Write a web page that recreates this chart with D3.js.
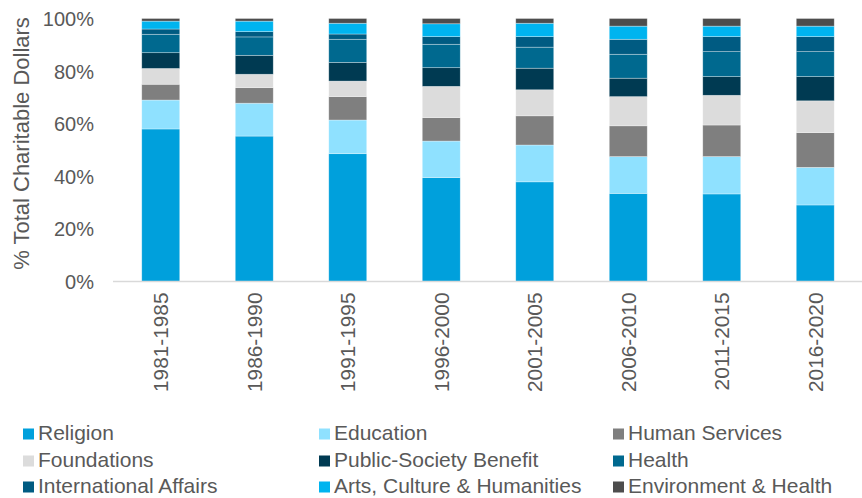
<!DOCTYPE html>
<html>
<head>
<meta charset="utf-8">
<script src="https://cdn.jsdelivr.net/npm/d3@7"></script>
<style>
  html, body { margin: 0; padding: 0; background: #fff; }
  svg { display: block; font-family: "Liberation Sans", Arial, sans-serif; }
</style>
</head>
<body>
<svg id="chart" width="862" height="498"></svg>
<script>
const periods = ["1981-1985","1986-1990","1991-1995","1996-2000","2001-2005","2006-2010","2011-2015","2016-2020"];
const religion      = [58.0, 55.3, 48.6, 39.5, 37.9, 33.5, 33.3, 29.1];
const education     = [11.0, 12.5, 12.8, 13.9, 14.0, 14.0, 14.2, 14.3];
const humanServices = [ 6.0,  5.9,  8.9,  8.9, 11.1, 11.7, 12.0, 13.2];
const foundations   = [ 6.0,  5.1,  5.9, 11.9,  9.9, 11.1, 11.3, 12.1];
const publicSociety = [ 6.0,  7.2,  7.1,  7.1,  8.2,  7.0,  7.1,  9.2];
const health        = [ 7.0,  7.0,  8.8,  8.9,  8.0,  9.1,  9.5,  9.5];
const international = [ 2.0,  2.0,  2.0,  2.9,  4.0,  5.7,  5.7,  5.7];
const arts          = [ 3.0,  4.0,  4.1,  4.9,  5.1,  5.0,  4.0,  4.0];
const environment   = [ 1.0,  1.0,  1.8,  2.0,  1.8,  2.9,  2.9,  2.9];
const seriesNames = ["Religion","Education","Human Services","Foundations","Public-Society Benefit","Health","International Affairs","Arts, Culture & Humanities","Environment & Health"];
const seriesValues = [religion, education, humanServices, foundations, publicSociety, health, international, arts, environment];
const colors = ["#00A0DC","#8FE1FF","#7F7F7F","#DCDCDC","#003A52","#00698F","#005B82","#00B4EF","#4D4D4D"];
const yTicks = [0, 20, 40, 60, 80, 100];

(function () {
const keys = seriesNames;
const table = periods.map((p, i) => {
  const row = { period: p };
  keys.forEach((k, j) => row[k] = seriesValues[j][i]);
  return row;
});

const svg = d3.select("#chart");
const textColor = "#595959";
const pLeft = 114, pRight = 862, pTop = 18.5, pBottom = 281.5;

const x = d3.scaleBand().domain(periods).range([pLeft, pRight]).paddingInner(0.594).paddingOuter(0.297);
const y = d3.scaleLinear().domain([0, 100]).range([pBottom, pTop]);
const color = d3.scaleOrdinal().domain(keys).range(colors);

const stacked = d3.stack().keys(keys)(table);

svg.append("g").selectAll("g").data(stacked).join("g")
  .attr("fill", d => color(d.key))
  .selectAll("rect").data(d => d).join("rect")
  .attr("x", d => x(d.data.period))
  .attr("width", x.bandwidth())
  .attr("y", d => y(d[1]))
  .attr("height", d => y(d[0]) - y(d[1]))
  .attr("stroke", "#ffffff")
  .attr("stroke-opacity", 0.45)
  .attr("stroke-width", 0.7);

// x axis
const xAxis = svg.append("g").attr("transform", `translate(0,${pBottom})`)
  .call(d3.axisBottom(x).tickSize(0).tickSizeOuter(0));
xAxis.select(".domain").attr("stroke", "#D9D9D9").attr("stroke-width", 1.3)
  .attr("d", `M${pLeft - 1},0H${pRight}`);
xAxis.selectAll(".tick text")
  .attr("fill", textColor)
  .attr("font-size", 20.8)
  .attr("font-family", "Liberation Sans, Arial, sans-serif")
  .attr("text-anchor", "end")
  .attr("transform", "rotate(-90)")
  .attr("x", -11)
  .attr("y", 0)
  .attr("dy", "0.35em");

// y axis
const yAxis = svg.append("g").attr("transform", `translate(${pLeft},0)`)
  .call(d3.axisLeft(y).tickValues(yTicks).tickFormat(d => d + "%").tickSize(0));
yAxis.select(".domain").remove();
yAxis.selectAll(".tick text")
  .attr("fill", textColor)
  .attr("font-size", 20)
  .attr("font-family", "Liberation Sans, Arial, sans-serif")
  .attr("x", -20)
  .attr("dy", "0.35em");

// y title
svg.append("text")
  .attr("transform", `translate(29,143.5) rotate(-90)`)
  .attr("text-anchor", "middle")
  .attr("fill", textColor)
  .attr("font-size", 22)
  .text("% Total Charitable Dollars");

// legend
const colX = [23, 319, 613];
const rowY = [428.5, 455.5, 481.5];
const legend = svg.append("g");
keys.forEach((k, i) => {
  const c = i % 3, r = Math.floor(i / 3);
  const g = legend.append("g").attr("transform", `translate(${colX[c]},${rowY[r]})`);
  g.append("rect").attr("width", 11).attr("height", 11).attr("fill", color(k));
  g.append("text").attr("x", 15).attr("y", 11.5).attr("fill", textColor)
    .attr("font-size", 21).text(k);
});
})();
</script>
</body>
</html>
